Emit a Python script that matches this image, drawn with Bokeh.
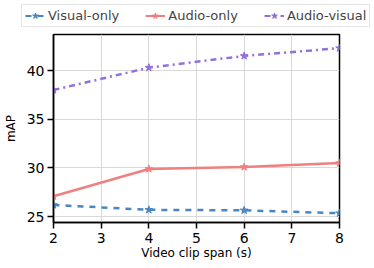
from bokeh.plotting import figure
from bokeh.layouts import column
from bokeh.models import Legend, LegendItem, FixedTicker, Range1d
from bokeh.embed import file_html
from bokeh.resources import INLINE

spans = [2, 4, 6, 8]
visual_only = [26.2, 25.7, 25.65, 25.35]
audio_only = [27.1, 29.9, 30.1, 30.5]
audio_visual = [38.0, 40.3, 41.5, 42.3]
series_names = ["Visual-only", "Audio-only", "Audio-visual"]
x_ticks = [2, 3, 4, 5, 6, 7, 8]
y_ticks = [25, 30, 35, 40]

FONT = "DejaVu Sans"
colors = ["#4a86bf", "#f08080", "#9370db"]
dashes = ["dashed", "solid", "dashdot"]
data = [visual_only, audio_only, audio_visual]

# main plot
p = figure(width=366, height=236, output_backend="svg", toolbar_location=None,
           x_range=Range1d(2, 8), y_range=Range1d(24.4, 43.7),
           min_border_left=50, min_border_right=27, min_border_top=4, min_border_bottom=44)
p.frame_align = False
p.outline_line_color = "black"
p.outline_line_width = 1.5
p.background_fill_color = "white"
p.border_fill_color = "white"

for name, ys, c, d in zip(series_names, data, colors, dashes):
    p.line(spans, ys, line_color=c, line_width=2.5, line_dash=d)
    p.scatter(spans, ys, marker="star", size=8, fill_color=c, line_color=c)

for ax in (p.xaxis, p.yaxis):
    ax.axis_line_width = 1.5
    ax.major_tick_line_width = 1.5
    ax.major_tick_out = 6
    ax.major_tick_in = 0
    ax.minor_tick_line_color = None
    ax.major_label_text_font = FONT
    ax.major_label_text_font_size = "14px"
    ax.major_label_text_color = "black"
    ax.axis_label_text_font = FONT
    ax.axis_label_text_font_size = "12px"
    ax.axis_label_text_font_style = "normal"
    ax.axis_label_text_color = "black"
p.xaxis.ticker = FixedTicker(ticks=x_ticks)
p.yaxis.ticker = FixedTicker(ticks=y_ticks)
p.xaxis.axis_label = "Video clip span (s)"
p.yaxis.axis_label = "mAP"
p.xaxis.axis_label_standoff = 0
p.yaxis.axis_label_standoff = 6
p.xaxis.major_label_standoff = 4
p.yaxis.major_label_standoff = 3
p.grid.grid_line_color = "#d9d9d9"
p.grid.grid_line_width = 1

# legend strip (its glyphs sit outside its visible range)
lg = figure(width=372, height=30, output_backend="svg", toolbar_location=None,
            x_range=Range1d(100, 101), y_range=Range1d(0, 1),
            x_axis_type=None, y_axis_type=None,
            min_border_left=0, min_border_right=0, min_border_top=0, min_border_bottom=0)
lg.frame_align = False
lg.outline_line_color = None
lg.grid.visible = False
items = []
for name, ys, c, d in zip(series_names, data, colors, dashes):
    l = lg.line(spans, ys, line_color=c, line_width=2, line_dash=d)
    m = lg.scatter(spans, ys, marker="star", size=9, fill_color=c, line_color=c)
    items.append(LegendItem(label=name, renderers=[l, m]))
legend = Legend(items=items, orientation="horizontal", location=(21, 3),
                label_text_font=FONT, label_text_font_size="13px",
                border_line_color="#cccccc", border_line_width=1,
                background_fill_alpha=1, padding=3, spacing=26,
                glyph_width=20, glyph_height=15, label_standoff=3, margin=0,
                label_height=15)
lg.add_layout(legend, "center")

layout = column(lg, p, spacing=0)
open("out.html", "w").write(file_html(layout, INLINE))
